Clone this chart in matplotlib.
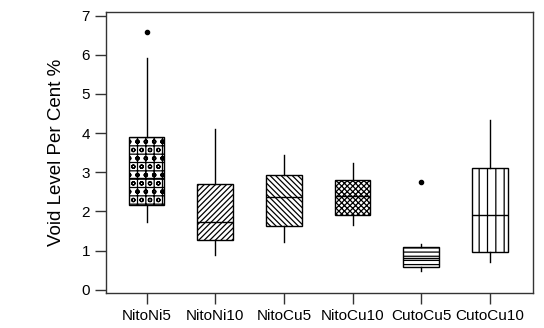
import matplotlib
matplotlib.use("Agg")
import matplotlib.pyplot as plt

plt.rcParams["font.family"] = ["Liberation Sans", "DejaVu Sans"]
plt.rcParams["hatch.linewidth"] = 0.9

groups = ["NitoNi5", "NitoNi10", "NitoCu5", "NitoCu10", "CutoCu5", "CutoCu10"]
q1 = [2.17, 1.26, 1.64, 1.91, 0.57, 0.96]
med = [2.86, 1.74, 2.38, 2.40, 0.80, 1.91]
q3 = [3.91, 2.70, 2.93, 2.81, 1.09, 3.10]
whislo = [1.74, 0.89, 1.22, 1.66, 0.47, 0.72]
whishi = [5.91, 4.10, 3.43, 3.23, 1.17, 4.34]
fliers = [[6.57], [], [], [], [2.76], []]
hatches = ["++oo", "//////", "\\\\\\\\\\\\", "xxxxxx", "----", "||"]

stats = [
    dict(label=g, q1=a, med=m, q3=b, whislo=lo, whishi=hi, fliers=f)
    for g, a, m, b, lo, hi, f in zip(groups, q1, med, q3, whislo, whishi, fliers)
]

fig = plt.figure(figsize=(5.44, 3.28), dpi=100)
ax = fig.add_axes([0.195, 0.107, 0.785, 0.856])

bp = ax.bxp(
    stats,
    widths=0.52,
    patch_artist=True,
    showcaps=False,
    boxprops=dict(facecolor="white", edgecolor="black", linewidth=1.0),
    medianprops=dict(color="black", linewidth=1.0),
    whiskerprops=dict(color="black", linewidth=1.0),
    flierprops=dict(marker="o", markerfacecolor="black", markeredgecolor="black", markersize=3),
)
for box, h in zip(bp["boxes"], hatches):
    box.set_hatch(h)

ax.set_xlim(0.41, 6.63)
ax.set_ylim(-0.08, 7.09)
ax.set_yticks(range(0, 8))
ax.set_ylabel("Void Level Per Cent %", fontsize=13.5, labelpad=12)
ax.tick_params(axis="both", labelsize=11, length=8, width=1.0, color="#333333")
for s in ax.spines.values():
    s.set_linewidth(1.0)
    s.set_color("#333333")

fig.savefig("out.png", dpi=100)
